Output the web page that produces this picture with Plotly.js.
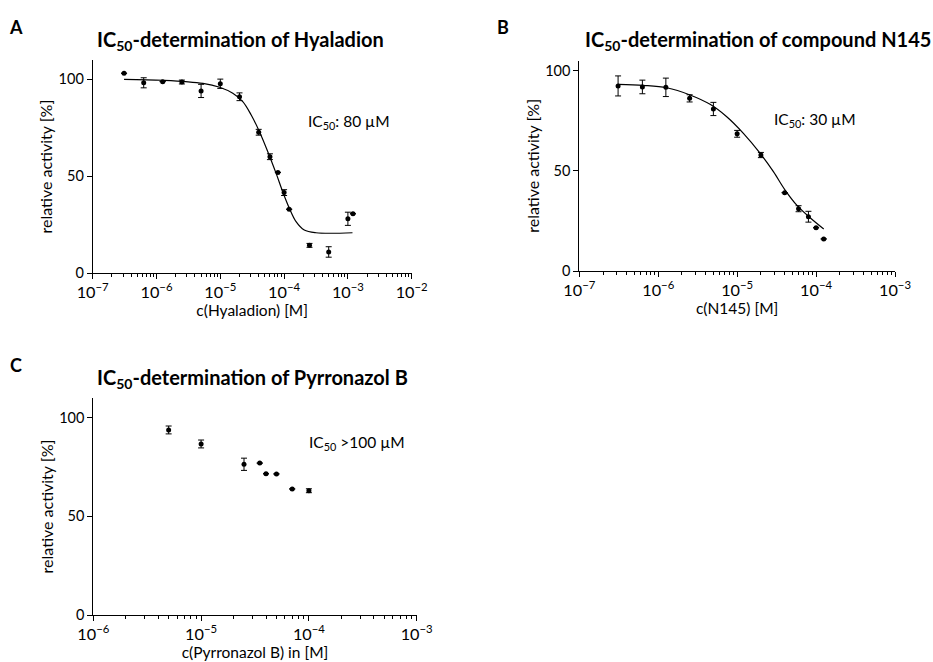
<!DOCTYPE html>
<html>
<head>
<meta charset="utf-8">
<script src="https://cdn.plot.ly/plotly-3.0.1.min.js"></script>
<style>html,body{margin:0;padding:0;background:#fff;}#chart{width:933px;height:662px;}</style>
</head>
<body>
<div id="chart"></div>
<script>
// ---- Panel A: Hyaladion ----
const hyaConc = [3.1e-7, 6.3e-7, 1.25e-6, 2.5e-6, 5e-6, 1e-5, 2e-5, 4e-5, 6e-5, 8e-5, 1e-4, 1.2e-4, 2.5e-4, 5e-4, 1e-3, 1.2e-3];
const hyaAct  = [103.1, 98.2, 98.8, 98.6, 94.0, 97.7, 91.0, 72.7, 60.1, 52.0, 41.6, 33.0, 14.4, 11.0, 28.1, 30.7];
const hyaErr  = [0, 2.6, 0, 1.0, 3.4, 2.4, 2.0, 1.5, 1.5, 0, 1.5, 0, 1.0, 2.7, 3.4, 0];
const hyaFitConc = [3.1e-7, 1.27e-6, 5.35e-6, 9.75e-6, 1.57e-5, 2.25e-5, 3.05e-5, 4.11e-5, 5.55e-5, 7.5e-5, 9.5e-5, 1.21e-4, 1.54e-4, 2.07e-4, 3.16e-4, 1.18e-3];
const hyaFitAct  = [100.0, 99.5, 97.9, 95.9, 92.8, 88.5, 81.6, 73.0, 62.7, 51.5, 42.1, 33.5, 26.6, 22.3, 20.9, 20.9];

// ---- Panel B: compound N145 ----
const n145Conc = [3.1e-7, 6.3e-7, 1.25e-6, 2.5e-6, 5e-6, 1e-5, 2e-5, 4e-5, 6e-5, 8e-5, 1e-4, 1.25e-4];
const n145Act  = [92.4, 91.9, 91.7, 86.2, 80.9, 68.5, 57.9, 39.1, 31.1, 27.1, 21.6, 16.0];
const n145Err  = [5.0, 3.4, 4.6, 1.8, 3.3, 1.7, 1.3, 0, 1.5, 2.7, 0, 0];
const n145FitConc = [3.12e-7, 6.47e-7, 1.28e-6, 2.53e-6, 4.54e-6, 7.38e-6, 1.2e-5, 1.95e-5, 2.88e-5, 4.05e-5, 5.69e-5, 8.4e-5, 1.25e-4];
const n145FitAct  = [93.2, 92.7, 91.5, 87.9, 83.2, 77.0, 68.7, 58.8, 49.6, 40.4, 32.9, 26.6, 21.0];

// ---- Panel C: Pyrronazol B ----
const pyrConc = [5e-6, 1e-5, 2.5e-5, 3.5e-5, 4e-5, 5e-5, 7e-5, 1e-4];
const pyrAct  = [93.8, 86.7, 76.4, 77.0, 71.6, 71.5, 63.9, 63.0];
const pyrErr  = [2.0, 2.0, 3.1, 0, 0, 0, 0, 1.0];

// ---- Text ----
const panelLetters = ["A", "B", "C"];
const panelTitles = [
  "IC<sub>50</sub>-determination of Hyaladion",
  "IC<sub>50</sub>-determination of compound N145",
  "IC<sub>50</sub>-determination of Pyrronazol B"
];
const ic50Texts = ["IC<sub>50</sub>: 80 µM", "IC<sub>50</sub>: 30 µM", "IC<sub>50</sub> >100 µM"];
const xTitles = ["c(Hyaladion) [M]", "c(N145) [M]", "c(Pyrronazol B) in [M]"];
const yTitle = "relative activity [%]";
const yTicks = [0, 50, 100];

const FONT = "Lato, 'Open Sans', sans-serif";
const W = 933, H = 662;
const px = v => v / W;
const py = v => 1 - v / H;

function pts(x, y, e, xa, ya) {
  return {
    x: x, y: y, type: 'scatter', mode: 'markers', xaxis: xa, yaxis: ya,
    marker: {color: '#000', size: 5},
    error_y: {type: 'data', array: e, visible: true, color: '#000', thickness: 1, width: 3},
    showlegend: false, hoverinfo: 'skip'
  };
}
function fit(x, y, xa, ya) {
  return {
    x: x, y: y, type: 'scatter', mode: 'lines', xaxis: xa, yaxis: ya,
    line: {color: '#000', width: 1.2, shape: 'spline', smoothing: 1},
    showlegend: false, hoverinfo: 'skip'
  };
}

const data = [
  fit(hyaFitConc, hyaFitAct, 'x', 'y'),
  pts(hyaConc, hyaAct, hyaErr, 'x', 'y'),
  fit(n145FitConc, n145FitAct, 'x2', 'y2'),
  pts(n145Conc, n145Act, n145Err, 'x2', 'y2'),
  pts(pyrConc, pyrAct, pyrErr, 'x3', 'y3')
];

function xax(dom, rng, title, anchor) {
  return {
    type: 'log', domain: dom, range: rng, anchor: anchor,
    dtick: 1, exponentformat: 'power',
    showline: true, linecolor: '#000', linewidth: 1,
    ticks: 'outside', ticklen: 5, tickcolor: '#000', tickwidth: 1,
    minor: {ticks: 'outside', ticklen: 3, tickcolor: '#000', tickwidth: 1, dtick: 'D1'},
    showgrid: false, zeroline: false,
    tickfont: {family: FONT, size: 13, color: '#000'},
    title: {text: title, font: {family: FONT, size: 15.5, color: '#000'}, standoff: 3}
  };
}
function yax(dom, rng, anchor) {
  return {
    domain: dom, range: rng, anchor: anchor,
    tickvals: yTicks,
    showline: true, linecolor: '#000', linewidth: 1,
    ticks: 'outside', ticklen: 5, tickcolor: '#000', tickwidth: 1,
    showgrid: false, zeroline: false,
    tickfont: {family: FONT, size: 14.5, color: '#000'},
    title: {text: yTitle, font: {family: FONT, size: 16, color: '#000'}, standoff: 1}
  };
}

const annotations = [];
const letterPos = [[16, 27], [503, 27], [16, 365]];
const titlePos = [[95, 40], [583, 40], [95, 379]];
const icPos = [[306, 122], [772, 120], [307, 443]];
for (let i = 0; i < 3; i++) {
  annotations.push({xref: 'paper', yref: 'paper', x: px(letterPos[i][0]), y: py(letterPos[i][1]),
    text: '<b>' + panelLetters[i] + '</b>', showarrow: false, xanchor: 'center', yanchor: 'middle',
    font: {family: FONT, size: 18, color: '#000'}});
  annotations.push({xref: 'paper', yref: 'paper', x: px(titlePos[i][0]), y: py(titlePos[i][1]),
    text: '<b>' + panelTitles[i] + '</b>', showarrow: false, xanchor: 'left', yanchor: 'middle',
    font: {family: FONT, size: 20, color: '#000'}});
  annotations.push({xref: 'paper', yref: 'paper', x: px(icPos[i][0]), y: py(icPos[i][1]),
    text: ic50Texts[i], showarrow: false, xanchor: 'left', yanchor: 'middle',
    font: {family: FONT, size: 15.5, color: '#000'}});
}

const layout = {
  width: W, height: H,
  margin: {l: 0, r: 0, t: 0, b: 0},
  paper_bgcolor: '#fff', plot_bgcolor: '#fff',
  xaxis: xax([px(92.7), px(411.7)], [-7, -2], xTitles[0], 'y'),
  yaxis: yax([py(273.3), py(59.9)], [0, 110], 'x'),
  xaxis2: xax([px(579.3), px(895)], [-7, -3], xTitles[1], 'y2'),
  yaxis2: yax([py(271), py(60.7)], [0, 105], 'x2'),
  xaxis3: xax([px(93.3), px(416.7)], [-6, -3], xTitles[2], 'y3'),
  yaxis3: yax([py(615), py(398)], [0, 110], 'x3'),
  annotations: annotations
};

Plotly.newPlot('chart', data, layout, {displayModeBar: false, staticPlot: true});
</script>
</body>
</html>
